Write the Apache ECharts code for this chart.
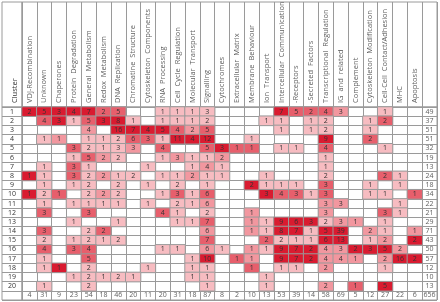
<!DOCTYPE html>
<html>
<head>
<meta charset="utf-8">
<script src="https://cdn.jsdelivr.net/npm/echarts@6/dist/echarts.min.js"></script>
<style>
  html, body { margin: 0; padding: 0; background: #fff; }
  #chart { width: 440px; height: 302px; }
</style>
</head>
<body>
<div id="chart"></div>
<script>
// functional categories (column headers)
const categories = [
  'VDJ-Recombination', 'Unknown', 'Chaperones', 'Protein  Degradation', 'General  Metabolism',
  'Redox  Metabolism', 'DNA  Replication', 'Chromatine  Structure', 'Cytoskeleton  Components',
  'RNA  Processing', 'Cell  Cycle  Regulation', 'Molecular  Transport', 'Signalling', 'Cytochromes',
  'Extracellular  Matrix', 'Membrane  Behaviour', 'Ion  Transport', 'Intercellular  Communication',
  '-Receptors', '-Secreted  Factors', 'Transcriptional  Regulation', 'IG  and  related', 'Complement',
  'Cytoskeleton  Modification', 'Cell-Cell  Contact/Adhesion', 'MHC', 'Apoptosis'
];
const clusters = ['1','2','3','4','5','6','7','8','9','10','11','12','13','14','15','16','17','18','19','20'];

// gene counts per cluster, one entry per category (0 = empty cell)
const c1  = [2,5,3,4,7,2,5,0,0,1,1,1,3,0,0,0,0,7,5,2,4,3,0,0,1,0,0];
const c2  = [0,4,3,1,5,3,8,1,0,1,1,1,2,0,0,0,1,1,0,1,2,0,0,1,2,0,0];
const c3  = [0,0,0,0,4,0,16,7,4,5,4,2,5,0,0,0,0,1,0,1,2,0,0,1,0,0,0];
const c4  = [0,1,1,0,1,1,2,6,3,1,11,4,12,0,0,1,0,0,0,0,9,0,0,2,0,0,0];
const c5  = [0,0,0,3,2,1,3,3,0,4,0,0,5,3,1,1,0,1,1,0,4,0,0,0,1,0,0];
const c6  = [0,0,0,1,5,2,2,0,0,1,3,1,1,2,0,0,0,0,0,0,1,0,0,0,0,0,0];
const c7  = [0,1,0,3,1,0,0,0,1,0,0,1,4,1,0,0,0,0,0,0,1,0,0,0,0,0,0];
const c8  = [1,1,0,3,2,2,1,2,0,1,1,2,1,1,0,0,1,0,0,0,2,0,0,0,2,1,0];
const c9  = [0,1,0,1,2,0,2,0,1,0,2,0,1,0,0,2,1,1,1,0,3,0,0,1,0,1,0];
const c10 = [1,2,1,0,2,2,2,0,0,1,3,1,6,0,0,0,3,4,3,1,3,0,0,1,1,0,1];
const c11 = [0,1,0,1,1,1,1,0,1,0,2,1,6,0,0,0,0,0,0,0,3,3,0,0,0,1,0];
const c12 = [0,3,0,0,3,0,0,0,0,4,1,0,2,0,0,1,0,0,0,0,3,0,0,0,3,1,0];
const c13 = [0,0,0,1,0,0,1,0,0,0,1,1,7,0,0,1,1,9,6,3,2,3,1,0,1,0,0];
const c14 = [0,3,0,0,2,2,0,0,0,0,0,0,6,0,0,1,1,8,7,1,5,39,0,2,1,0,1];
const c15 = [0,2,0,1,2,1,2,0,0,0,0,0,7,0,0,0,2,2,1,1,6,13,0,1,2,0,2];
const c16 = [0,4,0,3,4,0,0,0,0,1,1,0,6,1,0,1,1,9,7,2,4,3,2,3,5,2,0];
const c17 = [0,1,0,0,5,0,0,0,0,0,0,1,10,0,1,1,0,9,7,2,4,4,1,0,2,16,2];
const c18 = [0,1,1,0,2,0,0,0,1,0,0,1,1,0,0,1,0,1,1,0,2,0,0,0,1,0,0];
const c19 = [0,0,0,1,2,1,2,1,0,0,0,1,1,0,0,0,1,0,0,0,0,0,0,0,0,0,0];
const c20 = [0,1,0,0,2,0,0,0,0,0,0,0,1,0,0,0,1,0,0,0,2,0,1,0,5,0,0];
const counts = [c1,c2,c3,c4,c5,c6,c7,c8,c9,c10,c11,c12,c13,c14,c15,c16,c17,c18,c19,c20];

// shade class of each cell (1 light .. 4 strongest)
const s1  = [4,4,4,4,4,3,3,0,0,1,1,1,1,0,0,0,0,4,3,3,3,2,0,0,1,0,0];
const s2  = [0,3,4,1,3,4,4,1,0,1,1,1,1,0,0,0,1,1,0,1,1,0,0,1,3,0,0];
const s3  = [0,0,0,0,2,0,4,4,4,4,3,2,3,0,0,0,0,1,0,1,1,0,0,1,0,0,0];
const s4  = [0,1,2,0,1,1,1,3,3,1,4,4,4,0,0,1,0,0,0,0,4,0,0,3,0,0,0];
const s5  = [0,0,0,3,1,1,1,2,0,3,0,0,3,4,3,3,0,1,1,0,3,0,0,0,1,0,0];
const s6  = [0,0,0,1,3,2,1,0,0,1,2,1,1,2,0,0,0,0,0,0,1,0,0,0,0,0,0];
const s7  = [0,1,0,3,1,0,0,0,1,0,0,1,2,1,0,0,0,0,0,0,1,0,0,0,0,0,0];
const s8  = [4,1,0,3,1,2,1,1,0,1,1,2,1,1,0,0,1,0,0,0,1,0,0,0,3,1,0];
const s9  = [0,1,0,1,1,0,1,0,1,0,1,0,1,0,0,4,1,1,1,0,3,0,0,1,0,1,0];
const s10 = [4,1,3,0,1,2,1,0,0,1,3,1,3,0,0,0,4,3,3,1,3,0,0,1,1,0,3];
const s11 = [0,1,0,1,1,1,1,0,1,0,1,1,2,0,0,0,0,0,0,0,2,2,0,0,0,1,0];
const s12 = [0,3,0,0,3,0,0,0,0,3,1,0,1,0,0,2,0,0,0,0,2,0,0,0,3,1,0];
const s13 = [0,0,0,1,0,0,1,0,0,0,1,1,3,0,0,2,1,4,4,4,1,2,2,0,1,0,0];
const s14 = [0,3,0,0,1,3,0,0,0,0,0,0,2,0,0,2,1,4,4,1,4,4,0,2,1,0,2];
const s15 = [0,1,0,1,1,1,1,0,0,0,0,0,3,0,0,0,3,1,1,1,4,4,0,1,2,0,4];
const s16 = [0,3,0,3,3,0,0,0,0,1,1,0,2,1,0,2,1,4,4,4,2,2,4,4,4,2,0];
const s17 = [0,1,0,0,3,0,0,0,0,0,0,1,4,0,3,2,0,4,4,4,2,2,2,0,2,4,4];
const s18 = [0,1,4,0,1,0,0,0,1,0,0,1,1,0,0,3,0,1,1,0,2,0,0,0,1,0,0];
const s19 = [0,0,0,1,1,1,1,1,0,0,0,1,1,0,0,0,1,0,0,0,0,0,0,0,0,0,0];
const s20 = [0,1,0,0,1,0,0,0,0,0,0,0,1,0,0,0,1,0,0,0,2,0,3,0,4,0,0];
const shades = [s1,s2,s3,s4,s5,s6,s7,s8,s9,s10,s11,s12,s13,s14,s15,s16,s17,s18,s19,s20];

const rowTotals = [49,37,51,51,32,19,13,24,18,34,22,21,29,71,43,50,57,12,10,13];
const colTotals = [4,31,9,23,54,18,46,20,11,20,31,18,87,8,2,10,13,53,39,14,58,69,5,12,27,22,6];
const grandTotal = 656;

const nCol = categories.length;
const nRow = clusters.length;
const xCats = categories.map((_, i) => String(i)).concat(['total']);
const yCats = clusters.concat(['']);

// cells: [col, row, count, shade]
const cells = [];
counts.forEach((r, i) => {
  r.forEach((v, j) => {
    if (v > 0) cells.push([j, i, v, shades[i][j] || 1]);
  });
});

const totals = [];
rowTotals.forEach((t, i) => totals.push([nCol, i, t]));
colTotals.forEach((t, j) => totals.push([j, nRow, t]));
totals.push([nCol, nRow, grandTotal]);

// header labels sit on the bottom of the header band
const headerPts = categories.map((name, j) => [j, 4, name]);

const lineCol = '#9a9a9a';
const txt = '#333';
const font = '"Open Sans", sans-serif';

const chart = echarts.init(document.getElementById('chart'), null, { renderer: 'canvas' });

chart.setOption({
  backgroundColor: '#fff',
  animation: false,
  grid: [
    { left: 22, right: 3, top: 107, bottom: 2, show: true, borderColor: lineCol, borderWidth: 1 },
    { left: 22, right: 3, top: 2, height: 105, show: true, borderColor: lineCol, borderWidth: 1 },
    { left: 2, width: 20, top: 107, bottom: 2, show: true, borderColor: lineCol, borderWidth: 1 },
    { left: 2, width: 20, top: 2, height: 105, show: true, borderColor: lineCol, borderWidth: 1 }
  ],
  xAxis: [
    {
      gridIndex: 0, type: 'category', position: 'top', data: xCats,
      axisLine: { show: false }, axisTick: { show: false }, axisLabel: { show: false },
      splitLine: { show: true, interval: 0, lineStyle: { color: lineCol, width: 1 } }
    },
    {
      gridIndex: 1, type: 'category', data: xCats,
      axisLine: { show: false }, axisTick: { show: false }, axisLabel: { show: false },
      splitLine: { show: true, interval: 0, lineStyle: { color: lineCol, width: 1 } }
    },
    { gridIndex: 2, type: 'value', show: false },
    { gridIndex: 3, type: 'value', show: false }
  ],
  yAxis: [
    {
      gridIndex: 0, type: 'category', inverse: true, data: yCats,
      axisLine: { show: false }, axisTick: { show: false },
      axisLabel: { interval: 0, margin: 10, align: 'center', fontSize: 7, color: txt, fontFamily: font },
      splitLine: { show: true, interval: 0, lineStyle: { color: lineCol, width: 1 } }
    },
    { gridIndex: 1, type: 'value', min: 0, max: 105, show: false },
    {
      gridIndex: 2, type: 'category', inverse: true, data: yCats,
      axisLine: { show: false }, axisTick: { show: false }, axisLabel: { show: false },
      splitLine: { show: true, interval: 0, lineStyle: { color: lineCol, width: 1 } }
    },
    { gridIndex: 3, type: 'value', show: false }
  ],
  visualMap: {
    show: false,
    type: 'piecewise',
    seriesIndex: 0,
    dimension: 3,
    pieces: [
      { value: 1, color: '#f7bcc1' },
      { value: 2, color: '#f2979f' },
      { value: 3, color: '#e75f6c' },
      { value: 4, color: '#d91b30' }
    ]
  },
  series: [
    {
      type: 'heatmap',
      xAxisIndex: 0, yAxisIndex: 0,
      data: cells,
      itemStyle: { borderColor: lineCol, borderWidth: 1 },
      label: {
        show: true, fontSize: 7, color: txt, fontFamily: font,
        formatter: p => p.value[2]
      },
      emphasis: { disabled: true }
    },
    {
      type: 'scatter',
      xAxisIndex: 0, yAxisIndex: 0,
      data: totals,
      symbol: 'rect', symbolSize: 1,
      itemStyle: { color: 'rgba(0,0,0,0)' },
      label: {
        show: true, position: 'inside', fontSize: 7, color: txt, fontFamily: font,
        formatter: p => p.value[2]
      },
      emphasis: { disabled: true }
    },
    {
      type: 'scatter',
      xAxisIndex: 1, yAxisIndex: 1,
      data: headerPts,
      symbol: 'rect', symbolSize: 1,
      itemStyle: { color: 'rgba(0,0,0,0)' },
      label: {
        show: true, position: 'inside', rotate: 90, align: 'left', verticalAlign: 'middle',
        fontSize: 7.5, color: txt, fontFamily: font,
        formatter: p => p.value[2]
      },
      labelLayout: { hideOverlap: false },
      emphasis: { disabled: true }
    }
  ],
  graphic: [
    {
      type: 'text', x: 15, y: 103, rotation: Math.PI / 2,
      style: { text: 'Cluster', fontSize: 7.5, fill: txt, fontFamily: font, textVerticalAlign: 'middle' }
    }
  ]
});
</script>
</body>
</html>
